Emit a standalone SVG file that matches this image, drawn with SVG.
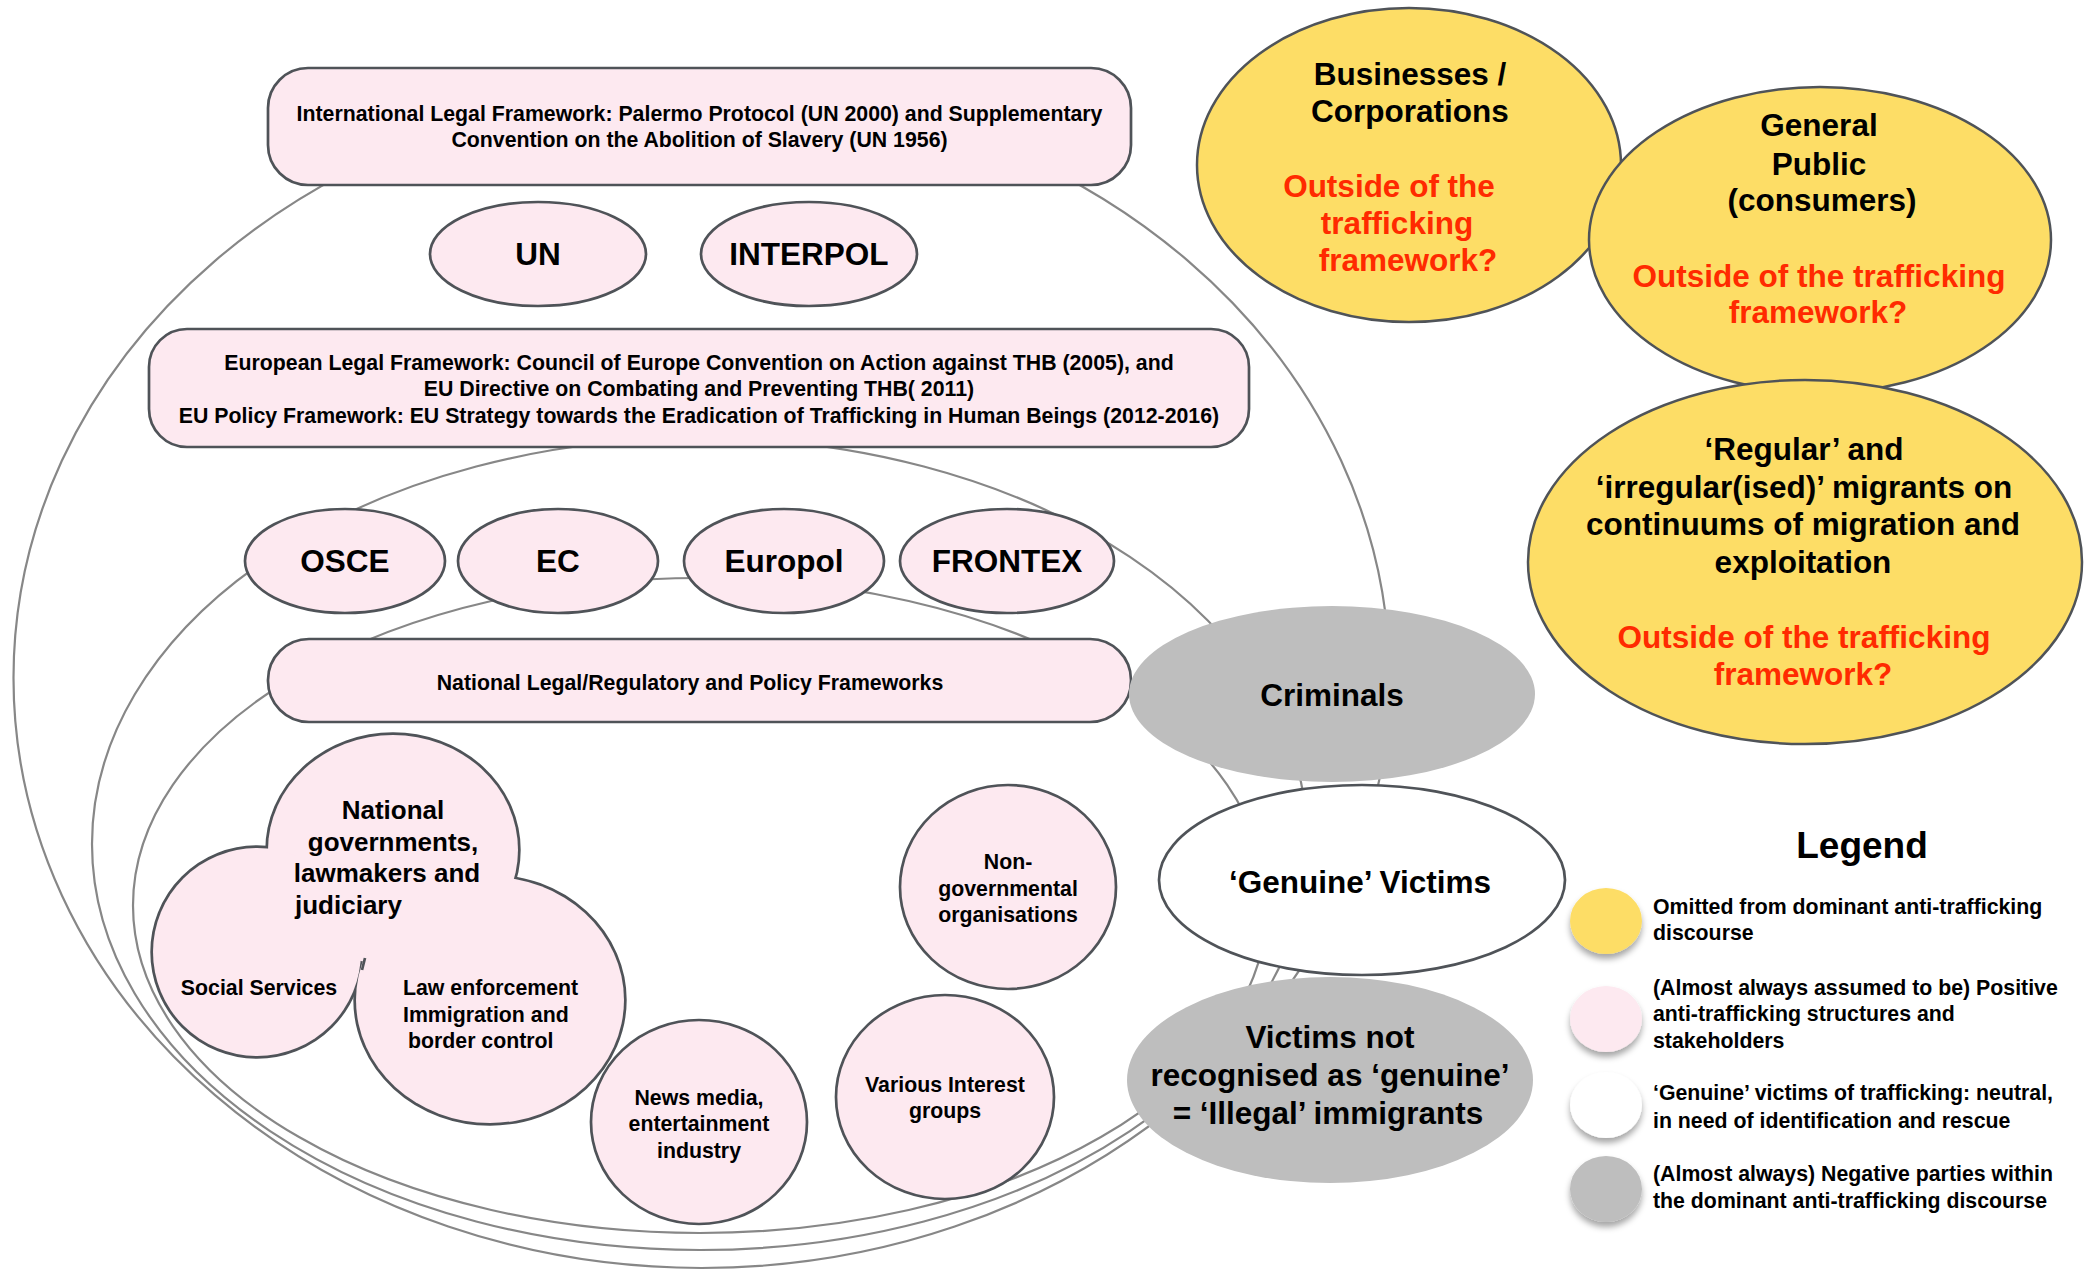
<svg xmlns="http://www.w3.org/2000/svg" width="2089" height="1271" viewBox="0 0 2089 1271">
<defs>
<style>
text{font-family:"Liberation Sans",Arial,sans-serif;font-weight:bold;fill:#000}
.m{text-anchor:middle}
.t21{font-size:21.3px}
.t26{font-size:26px}
.t31{font-size:31.5px}
.t36{font-size:37px}
.red{fill:#ff2a00}
.pink{fill:#fde9f0;stroke:#4f5358;stroke-width:2.7}
.yel{fill:#fddd66;stroke:#4f5358;stroke-width:2.5}
.gry{fill:#bebebe}
.wht{fill:#ffffff;stroke:#4f5358;stroke-width:2.7}
.conn{fill:none;stroke:#878787;stroke-width:2.2}
.ustroke{fill:#4f5358;stroke:#4f5358;stroke-width:5.4}
.ufill{fill:#fde9f0}
</style>
<filter id="sh" x="-50%" y="-50%" width="200%" height="200%">
<feDropShadow dx="0" dy="5" stdDeviation="3" flood-color="#000" flood-opacity="0.35"/>
</filter>
</defs>
<rect width="2089" height="1271" fill="#ffffff"/>

<g id="connectors">
<ellipse class="conn" cx="701.5" cy="678" rx="688" ry="590"/>
<ellipse class="conn" cx="700" cy="844" rx="608" ry="406"/>
<ellipse class="conn" cx="700" cy="905.5" rx="567" ry="327.5"/>
</g>

<g id="node-international">
<rect class="pink" x="268" y="68" width="863" height="117" rx="40"/>
<text class="t21 m" x="699.5" y="120.5">International Legal Framework: Palermo Protocol (UN 2000) and Supplementary</text>
<text class="t21 m" x="699.5" y="146.5">Convention on the Abolition of Slavery (UN 1956)</text>
</g>
<g id="node-un">
<ellipse class="pink" cx="538" cy="254" rx="108" ry="52"/>
<text class="t31 m" x="538" y="265">UN</text>
</g>
<g id="node-interpol">
<ellipse class="pink" cx="809" cy="254" rx="108" ry="52"/>
<text class="t31 m" x="809" y="265">INTERPOL</text>
</g>
<g id="node-european">
<rect class="pink" x="149" y="329" width="1100" height="118" rx="38"/>
<text class="t21 m" x="699" y="370">European Legal Framework: Council of Europe Convention on Action against THB (2005), and</text>
<text class="t21 m" x="699" y="396">EU Directive on Combating and Preventing THB( 2011)</text>
<text class="t21 m" x="699" y="423">EU Policy Framework: EU Strategy towards the Eradication of Trafficking in Human Beings (2012-2016)</text>
</g>
<g id="node-osce">
<ellipse class="pink" cx="345" cy="561" rx="100" ry="52"/>
<text class="t31 m" x="345" y="572">OSCE</text>
</g>
<g id="node-ec">
<ellipse class="pink" cx="558" cy="561" rx="100" ry="52"/>
<text class="t31 m" x="558" y="572">EC</text>
</g>
<g id="node-europol">
<ellipse class="pink" cx="784" cy="561" rx="100" ry="52"/>
<text class="t31 m" x="784" y="572">Europol</text>
</g>
<g id="node-frontex">
<ellipse class="pink" cx="1007" cy="561" rx="107" ry="52"/>
<text class="t31 m" x="1007" y="572">FRONTEX</text>
</g>
<g id="node-national">
<rect class="pink" x="268" y="639" width="863" height="83" rx="41"/>
<text class="t21 m" x="690" y="689.5">National Legal/Regulatory and Policy Frameworks</text>
</g>

<g id="node-national-gov">
<ellipse class="ustroke" cx="393" cy="850" rx="125" ry="115"/>
<ellipse class="ustroke" cx="257" cy="952" rx="104" ry="104"/>
<ellipse class="ustroke" cx="490" cy="1000" rx="134" ry="123"/>
<ellipse class="ufill" cx="393" cy="850" rx="125" ry="115"/>
<ellipse class="ufill" cx="257" cy="952" rx="104" ry="104"/>
<ellipse class="ufill" cx="490" cy="1000" rx="134" ry="123"/>
<line x1="365" y1="958" x2="362" y2="970" stroke="#4f5358" stroke-width="2.7"/>
<text class="t26 m" x="393" y="819">National</text>
<text class="t26 m" x="393" y="851">governments,</text>
<text class="t26 m" x="387" y="882">lawmakers and</text>
<text class="t26" x="295" y="914">judiciary</text>
<text class="t21 m" x="259" y="995">Social Services</text>
<text class="t21" x="403" y="995">Law enforcement</text>
<text class="t21" x="403" y="1022">Immigration and</text>
<text class="t21" x="408" y="1048">border control</text>
</g>

<g id="node-ngo">
<ellipse class="pink" cx="1008" cy="887" rx="108" ry="102"/>
<text class="t21 m" x="1008" y="869">Non-</text>
<text class="t21 m" x="1008" y="896">governmental</text>
<text class="t21 m" x="1008" y="922">organisations</text>
</g>
<g id="node-interest">
<ellipse class="pink" cx="945" cy="1097" rx="109" ry="102"/>
<text class="t21 m" x="945" y="1092">Various Interest</text>
<text class="t21 m" x="945" y="1118">groups</text>
</g>
<g id="node-media">
<ellipse class="pink" cx="699" cy="1122" rx="108" ry="102"/>
<text class="t21 m" x="699" y="1105">News media,</text>
<text class="t21 m" x="699" y="1131">entertainment</text>
<text class="t21 m" x="699" y="1158">industry</text>
</g>

<g id="node-criminals">
<ellipse class="gry" cx="1332" cy="694" rx="203" ry="88"/>
<text class="t31 m" x="1332" y="706">Criminals</text>
</g>
<g id="node-genuine">
<ellipse class="wht" cx="1362" cy="880" rx="203" ry="95"/>
<text class="t31 m" x="1360" y="893">‘Genuine’ Victims</text>
</g>
<g id="node-victims-not">
<ellipse class="gry" cx="1330" cy="1080" rx="203" ry="103"/>
<text class="t31 m" x="1330" y="1048">Victims not</text>
<text class="t31 m" x="1330" y="1086">recognised as ‘genuine’</text>
<text class="t31 m" x="1328" y="1124">= ‘Illegal’ immigrants</text>
</g>

<g id="node-businesses">
<ellipse class="yel" cx="1409" cy="165" rx="212" ry="157"/>
<text class="t31 m" x="1410" y="85">Businesses /</text>
<text class="t31 m" x="1410" y="122">Corporations</text>
<text class="t31 m red" x="1389" y="197">Outside of the</text>
<text class="t31 m red" x="1397" y="234">trafficking</text>
<text class="t31 m red" x="1408" y="271">framework?</text>
</g>
<g id="node-public">
<ellipse class="yel" cx="1820" cy="240" rx="231" ry="153"/>
<text class="t31 m" x="1819" y="136">General</text>
<text class="t31 m" x="1819" y="175">Public</text>
<text class="t31 m" x="1822" y="211">(consumers)</text>
<text class="t31 m red" x="1819" y="287">Outside of the trafficking</text>
<text class="t31 m red" x="1818" y="323">framework?</text>
</g>
<g id="node-migrants">
<ellipse class="yel" cx="1805" cy="562" rx="277" ry="182"/>
<text class="t31 m" x="1804" y="460">‘Regular’ and</text>
<text class="t31 m" x="1804" y="498">‘irregular(ised)’ migrants on</text>
<text class="t31 m" x="1803" y="535">continuums of migration and</text>
<text class="t31 m" x="1803" y="573">exploitation</text>
<text class="t31 m red" x="1804" y="648">Outside of the trafficking</text>
<text class="t31 m red" x="1803" y="685">framework?</text>
</g>

<g id="legend">
<text class="t36 m" x="1862" y="858">Legend</text>
<ellipse cx="1606" cy="921" rx="36" ry="33" fill="#fddd66" filter="url(#sh)"/>
<ellipse cx="1606" cy="1019" rx="36" ry="33" fill="#fde9f0" filter="url(#sh)"/>
<ellipse cx="1606" cy="1105" rx="36" ry="33" fill="#ffffff" filter="url(#sh)"/>
<ellipse cx="1606" cy="1189" rx="36" ry="33" fill="#bebebe" filter="url(#sh)"/>
<text class="t21" x="1653" y="914">Omitted from dominant anti-trafficking</text>
<text class="t21" x="1653" y="940">discourse</text>
<text class="t21" x="1653" y="995">(Almost always assumed to be) Positive</text>
<text class="t21" x="1653" y="1021">anti-trafficking structures and</text>
<text class="t21" x="1653" y="1048">stakeholders</text>
<text class="t21" x="1653" y="1100">‘Genuine’ victims of trafficking: neutral,</text>
<text class="t21" x="1653" y="1128">in need of identification and rescue</text>
<text class="t21" x="1653" y="1181">(Almost always) Negative parties within</text>
<text class="t21" x="1653" y="1208">the dominant anti-trafficking discourse</text>
</g>
</svg>
